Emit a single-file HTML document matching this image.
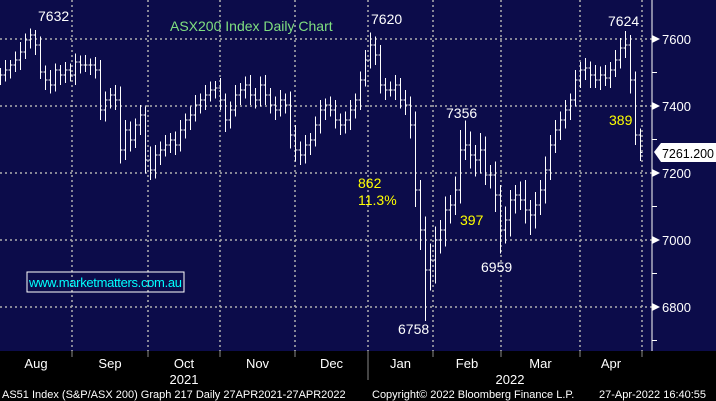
<!DOCTYPE html>
<html><head><meta charset="utf-8">
<style>
html,body{margin:0;padding:0;background:#000;}
svg{display:block;font-family:"Liberation Sans",sans-serif;}
</style></head>
<body>
<svg id="chart" width="716" height="401" viewBox="0 0 716 401" xmlns="http://www.w3.org/2000/svg">
<rect x="0" y="0" width="716" height="351" fill="#0c0c4a"/>
<rect x="0" y="351" width="716" height="50" fill="#000"/>
<g id="grid"></g>
<g id="bars" stroke="#fff" stroke-width="1" fill="none" shape-rendering="crispEdges"></g>
<g id="axis"></g>
<text x="170" y="31" fill="#80e080" font-size="14">ASX200 Index Daily Chart</text>
<g font-size="14" fill="#fff">
<text x="38" y="21">7632</text>
<text x="371" y="24">7620</text>
<text x="446" y="118">7356</text>
<text x="608" y="26">7624</text>
<text x="481" y="272">6959</text>
<text x="398" y="334">6758</text>
</g>
<g font-size="14" fill="#ffff00">
<text x="609" y="125">389</text>
<text x="358" y="188">862</text>
<text x="358" y="205">11.3%</text>
<text x="460" y="225">397</text>
</g>
<rect x="27" y="272" width="157" height="20" fill="none" stroke="#fff" stroke-width="1"/>
<text x="29" y="287" fill="#00ffff" font-size="13" textLength="153">www.marketmatters.com.au</text>
<g>
<polygon points="654,152 661,143 716,143 716,162 661,162" fill="#fff"/>
<text x="662" y="158" fill="#000" font-size="13" textLength="52" lengthAdjust="spacingAndGlyphs">7261.200</text>
</g>
<g font-size="13" fill="#fff" text-anchor="middle" id="months"></g>
<line x1="368" y1="352" x2="368" y2="380" stroke="#888" stroke-width="1"/>
<text x="184" y="384" fill="#fff" font-size="13" text-anchor="middle">2021</text>
<text x="510" y="384" fill="#fff" font-size="13" text-anchor="middle">2022</text>
<g font-size="11" fill="#fff">
<text x="2" y="398">AS51 Index (S&amp;P/ASX 200) Graph 217  Daily 27APR2021-27APR2022</text>
<text x="372" y="398">Copyright© 2022 Bloomberg Finance L.P.</text>
<text x="599" y="398">27-Apr-2022 16:40:55</text>
</g>
</svg>
<script>
const closes=[7493,7507,7522,7537,7561,7597,7612,7582,7501,7478,
7463,7507,7493,7507,7493,7531,7522,7522,7522,7507,
7388,7418,7433,7418,7269,7328,7299,7343,7373,7239,
7209,7254,7269,7284,7299,7284,7328,7358,7373,7403,
7418,7433,7448,7454,7418,7358,7388,7433,7448,7463,
7433,7418,7463,7433,7403,7388,7418,7403,7313,7269,
7254,7284,7299,7343,7388,7403,7388,7358,7343,7358,
7388,7418,7478,7537,7582,7552,7463,7448,7448,7463,
7418,7403,7343,7149,7030,6910,6940,7000,7030,7090,
7104,7149,7269,7284,7254,7239,7269,7194,7194,7134,
7030,7060,7119,7134,7119,7090,7075,7104,7149,7209,
7284,7328,7358,7388,7418,7478,7507,7513,7493,7478,
7493,7484,7507,7537,7573,7582,7478,7313,7261];
const upWick=[20,30,15,25,30,20,20,15,25,20,30,20,15,25,20,25,20,30,20,25,
30,25,20,30,40,30,25,20,30,25,40,30,25,30,20,25,30,20,25,30,
20,30,25,20,30,20,25,30,20,25,30,20,25,30,20,25,30,20,40,30,
25,30,20,25,30,20,25,30,20,25,30,20,25,30,38,25,30,20,25,30,
20,30,25,40,30,40,50,40,30,40,30,40,60,72,40,30,50,40,30,40,
30,40,30,30,40,60,30,40,30,40,30,30,25,30,20,30,25,30,20,30,
25,30,25,30,30,42,30,25,20];
const downWick=[30,20,25,20,30,20,25,30,20,30,25,20,30,25,20,30,25,20,30,25,
30,35,25,30,40,30,35,25,30,40,30,25,30,20,25,30,20,25,30,20,
25,30,20,25,30,35,25,20,30,25,30,25,20,30,25,30,20,25,40,35,
30,25,30,20,25,30,20,25,30,25,30,25,30,20,25,30,25,30,20,30,
25,30,40,50,60,152,60,70,40,50,40,30,40,30,40,50,40,30,40,50,
71,40,50,40,30,40,60,40,30,40,30,25,30,25,30,20,25,30,40,25,
30,25,30,20,25,30,40,30,25];
const monthNames=["Aug","Sep","Oct","Nov","Dec","Jan","Feb","Mar","Apr"];
const yTicks=[7600,7400,7200,7000,6800];
const yMinor=[7500,7300,7100,6900,6700];

const NS="http://www.w3.org/2000/svg";
const X0=0,X1=640;
const xScale=i=>X0+(X1-X0)*i/(closes.length-1);
const yScale=v=>39+(7600-v)*0.335;
function mk(tag,attrs,parent){const e=document.createElementNS(NS,tag);for(const k in attrs)e.setAttribute(k,attrs[k]);parent.appendChild(e);return e;}

const grid=document.getElementById('grid');
yTicks.forEach(v=>{
  const l=mk('line',{x1:0,x2:652,y1:yScale(v),y2:yScale(v),stroke:'#b0b0b0','stroke-width':1.5,'stroke-dasharray':'2,3'},grid);
  
  
});
const vgrid=[72,148,220,295,368,433,501,580,642];
vgrid.forEach(x=>{
  const l=mk('line',{x1:x,x2:x,y1:0,y2:351,stroke:'#b0b0b0','stroke-width':1.5,'stroke-dasharray':'2,3'},grid);
  
  
});

const bars=document.getElementById('bars');
closes.forEach((c,i)=>{
  const o=i>0?closes[i-1]:c;
  const hi=Math.max(o,c)+upWick[i], lo=Math.min(o,c)-downWick[i];
  const x=Math.round(xScale(i))+0.5;
  const g=mk('g',{},bars);
  
  
  mk('line',{x1:x,x2:x,y1:yScale(hi),y2:yScale(lo)},g);
  mk('line',{x1:x-2,x2:x,y1:yScale(o),y2:yScale(o)},g);
  mk('line',{x1:x,x2:x+2,y1:yScale(c),y2:yScale(c)},g);
});

const axis=document.getElementById('axis');
const al=mk('line',{x1:652,x2:652,y1:0,y2:351,stroke:'#fff','stroke-width':1},axis);


yTicks.forEach(v=>{
  const y=yScale(v);
  const p=mk('polygon',{points:`652,${y-4} 660,${y} 652,${y+4}`,fill:'#fff'},axis);
  
  
  const t=mk('text',{x:662,y:y+5,fill:'#fff','font-size':13},axis);
  t.textContent=v;
  
  
});
yMinor.forEach(v=>{
  const t=mk('line',{x1:652,x2:657,y1:yScale(v),y2:yScale(v),stroke:'#fff'},axis);
  
  
});
const xticks=[0,72,148,220,295,368,433,501,580,642];
xticks.slice(1).forEach(x=>{
  const t=mk('line',{x1:x,x2:x,y1:351,y2:357,stroke:'#888'},axis);
  
  
});
const months=document.getElementById('months');
monthNames.forEach((m,i)=>{
  const t=mk('text',{x:(xticks[i]+xticks[i+1])/2,y:368},months);
  t.textContent=m;
  
  
});
</script>
</body></html>
